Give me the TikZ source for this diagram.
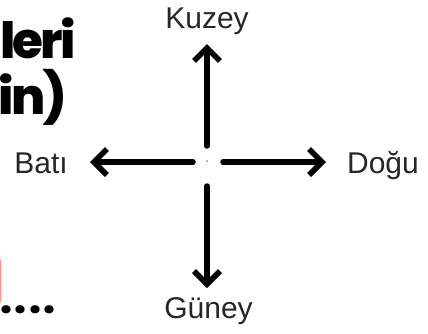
\documentclass[tikz,border=0pt]{standalone}
\usepackage{fontspec}
\setmainfont{Liberation Sans}
\IfFontExistsTF{Poppins ExtraBold}
  {\newfontfamily\popfont{Poppins ExtraBold}\newcommand\popweight{}}
  {\newfontfamily\popfont{Poppins}[BoldFeatures={FakeBold=2}]\newcommand\popweight{\bfseries}}
\usetikzlibrary{arrows.meta}
\definecolor{barred}{RGB}{255,145,145}
\begin{document}
\begin{tikzpicture}[x=1pt,y=-1pt,
  lbl/.style={font=\fontsize{30}{36}\selectfont, text=black!85, inner sep=0pt, anchor=base},
  head/.style={font=\popfont\popweight\fontsize{50}{56}\selectfont, inner sep=0pt, anchor=base west},
  leader/.style={font=\popfont\popweight\fontsize{40}{46}\selectfont, inner sep=0pt, anchor=base west},
  dir/.style={line width=5.5pt, line cap=round, -{Straight Barb[length=13pt,width=26pt]}}]
\useasboundingbox (0,0) rectangle (428,333);
% partial heading text at left
\node[head] (h1) at (0,58) {l\kern-2.8pt e\kern-2.8pt r\kern-2.8pt i};
\node[head] (h2) at (-1.5,114) {i\kern-2.5pt n\kern-2.5pt )};
\node[leader] (dots) at (0,313) {.\kern2.5pt.\kern2.5pt.\kern2.5pt.};
\fill[barred] (0,260) rectangle (1.4,302);
% compass
\node[circle, fill=black!50, inner sep=0pt, minimum size=2pt] (c) at (207,161) {};
\coordinate (nS) at (207,146);
\coordinate (nT) at (207,44);
\coordinate (sS) at (207,186);
\coordinate (sT) at (207,288);
\coordinate (wS) at (193,162);
\coordinate (wT) at (90,162);
\coordinate (eS) at (223,162);
\coordinate (eT) at (326,162);
\draw[dir] (nS) -- (nT);
\draw[dir] (sS) -- (sT);
\draw[dir] (wS) -- (wT);
\draw[dir] (eS) -- (eT);
\node[lbl] (kuzey) at (207,28) {Kuzey};
\node[lbl] (bati) at (41,173) {Batı};
\node[lbl] (dogu) at (383,173) {Doğu};
\node[lbl] (guney) at (208.5,318) {Güney};
\end{tikzpicture}
\end{document}
